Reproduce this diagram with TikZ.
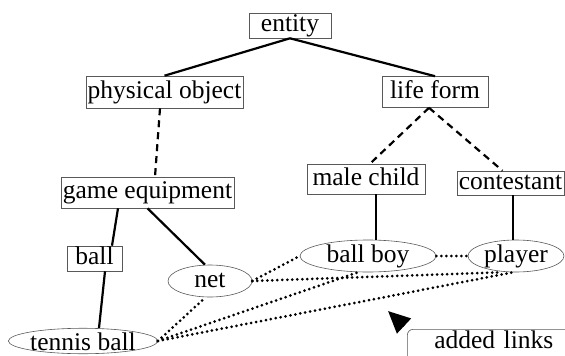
\documentclass[tikz,border=0pt]{standalone}
\usepackage{fontspec}
\setmainfont{Liberation Serif}
\usepackage{tikz}
\usetikzlibrary{shapes.geometric,arrows.meta}

\tikzset{
  concept/.style={draw=black!65, line width=0.6pt, inner sep=0pt, text height=17pt, text depth=5pt},
  instance/.style={ellipse, draw=black!65, line width=0.6pt, inner sep=0pt, text height=17pt, text depth=5pt},
  isa/.style={black, line width=2.2pt},
  guess/.style={black, line width=2.2pt, dash pattern=on 7pt off 5pt},
  added/.style={black, line width=3pt, line cap=round, dash pattern=on 0pt off 5pt},
}

\begin{document}
\begin{tikzpicture}[x=1pt, y=-1pt, font=\fontsize{25.5}{30}\selectfont]
	\clip (0,0) rectangle (565,356);
	% concepts
	\node[concept, minimum width=82pt, minimum height=25pt] (entity) at (290,25.5) {entity};
	\node[concept, minimum width=157pt, minimum height=32pt] (phys) at (164.5,92) {physical object};
	\node[concept, minimum width=106pt, minimum height=31pt] (life) at (435,92) {life form};
	\node[concept, minimum width=173pt, minimum height=31pt] (equip) at (147.5,192.5) {game equipment};
	\node[concept, minimum width=118pt, minimum height=30pt] (male) at (366,179) {male child};
	\node[concept, minimum width=107pt, minimum height=24pt] (cont) at (510.5,183) {contestant};
	\node[concept, minimum width=55pt, minimum height=25pt] (ball) at (94.5,258.5) {ball};
	% instances
	\node[instance, minimum width=84pt, minimum height=32pt] (net) at (210,281) {net};
	\node[instance, minimum width=136pt, minimum height=32pt] (ballboy) at (368,256) {ball boy};
	\node[instance, minimum width=96pt, minimum height=32pt] (player) at (516,256) {player};
	\node[instance, text height=18pt, text depth=0pt, minimum width=144pt, minimum height=24pt] (tennis) at (83,341) {tennis ball};

	% hierarchy
	\draw[isa] (entity.south) -- (phys.north);
	\draw[isa] (entity.south) -- (life.north);
	\draw[guess] ([xshift=-4.5pt]phys.south) -- ([xshift=7.5pt]equip.north);
	\draw[guess] ([xshift=-6pt]life.south) -- ([xshift=4pt]male.north);
	\draw[guess] ([xshift=-6pt]life.south) -- ([xshift=-8pt]cont.north);
	\draw[isa] ([xshift=-29.5pt]equip.south) -- ([xshift=17.5pt]ball.north);
	\draw[isa] ([xshift=10.5pt]ball.south) -- ([xshift=16pt]tennis.north);
	\draw[isa] (equip.south) -- ([xshift=-5pt]net.north);
	\draw[isa] ([xshift=10pt]male.south) -- ([xshift=8pt]ballboy.north);
	\draw[isa] ([xshift=2.5pt]cont.south) -- ([xshift=-3pt]player.north);

	% added links
	\draw[added] (net.east) -- (ballboy.west);
	\draw[added] (net.east) -- ([xshift=-15pt]player.south);
	\draw[added] (ballboy.east) -- (player.west);
	\draw[added] (tennis.east) -- (net.255);
	\draw[added] (tennis.east) -- ([xshift=-10pt]ballboy.south);
	\draw[added] (tennis.east) -- ([xshift=-3pt]player.south);

	\node[draw=black!65, line width=0.6pt, rounded corners=6pt, anchor=north west, inner xsep=27pt, inner ysep=0pt, text height=19pt, text depth=22pt, text width=140pt] (links) at (407,329) {added links};
	\coordinate (tip) at (388,311);
	\draw[line width=3.2pt, -{Triangle[length=22pt, width=20pt]}] ([shift={(-3pt,3pt)}]links.north west) -- (tip);
\end{tikzpicture}
\end{document}
